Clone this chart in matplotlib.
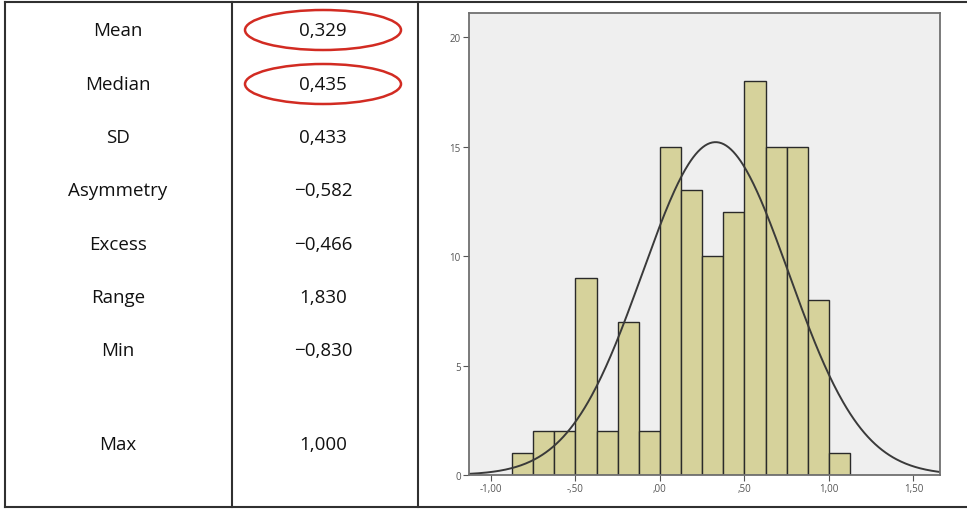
import numpy as np
import matplotlib.pyplot as plt
from matplotlib.patches import Ellipse

# table contents
labels = ['Mean', 'Median', 'SD', 'Asymmetry', 'Excess', 'Range', 'Min', 'Max']
values = ['0,329', '0,435', '0,433', '\u22120,582', '\u22120,466', '1,830', '\u22120,830', '1,000']
circled = ['Mean', 'Median']

# histogram
bin_edges = np.arange(-0.875, 1.126, 0.125)
counts = [1, 2, 2, 9, 2, 7, 2, 15, 13, 10, 12, 18, 15, 15, 8, 1]
mean, sd = 0.329, 0.433
xticks = [-1.0, -0.5, 0.0, 0.5, 1.0, 1.5]
xticklabels = ['-1,00', '-,50', ',00', ',50', '1,00', '1,50']
yticks = [0, 5, 10, 15, 20]

plt.rcParams['font.family'] = ['Open Sans', 'DejaVu Sans']

fig = plt.figure(figsize=(9.67, 5.1), dpi=100)
bg = fig.add_axes([0, 0, 1, 1])
bg.set_xlim(0, 967)
bg.set_ylim(510, 0)
bg.axis('off')

# frame lines (no right border in the original)
lc = '#303030'
bg.plot([5, 967], [3, 3], color=lc, lw=1.5)
bg.plot([5, 967], [508, 508], color=lc, lw=1.5)
bg.plot([5, 5], [3, 508], color=lc, lw=1.5)
bg.plot([232, 232], [3, 508], color=lc, lw=1.5)
bg.plot([418, 418], [3, 508], color=lc, lw=1.5)

row_y = [31, 85, 138, 191, 245, 298, 351, 445]
for lab, val, y in zip(labels, values, row_y):
	bg.text(118, y, lab, ha='center', va='center', fontsize=13.5, color='#111111')
	bg.text(323, y, val, ha='center', va='center', fontsize=13.5, color='#111111')
	if lab in circled:
		bg.add_patch(Ellipse((323, y), 156, 40, fill=False, ec='#d22b22', lw=1.8))

# histogram panel
ax = fig.add_axes([469/967, 34/510, 471/967, 462/510])
ax.set_facecolor('#efefef')
widths = np.diff(bin_edges)
ax.bar(bin_edges[:-1], counts, width=widths, align='edge', color='#d6d29b', edgecolor='#2a2a2a', lw=1.0)

x = np.linspace(-1.13, 1.657, 400)
n = sum(counts)
y = n * widths[0] / (sd * np.sqrt(2*np.pi)) * np.exp(-0.5*((x - mean)/sd)**2)
ax.plot(x, y, color='#3a3a3a', lw=1.4)

ax.set_xlim(-1.13, 1.657)
ax.set_ylim(0, 21.1)
ax.set_xticks(xticks)
ax.set_xticklabels(xticklabels)
ax.set_yticks(yticks)
ax.tick_params(labelsize=7, colors='#555555', length=4, width=0.8, pad=2)
for s in ax.spines.values():
	s.set_color('#707070')
	s.set_linewidth(1.3)

plt.savefig('out.png', dpi=100)
